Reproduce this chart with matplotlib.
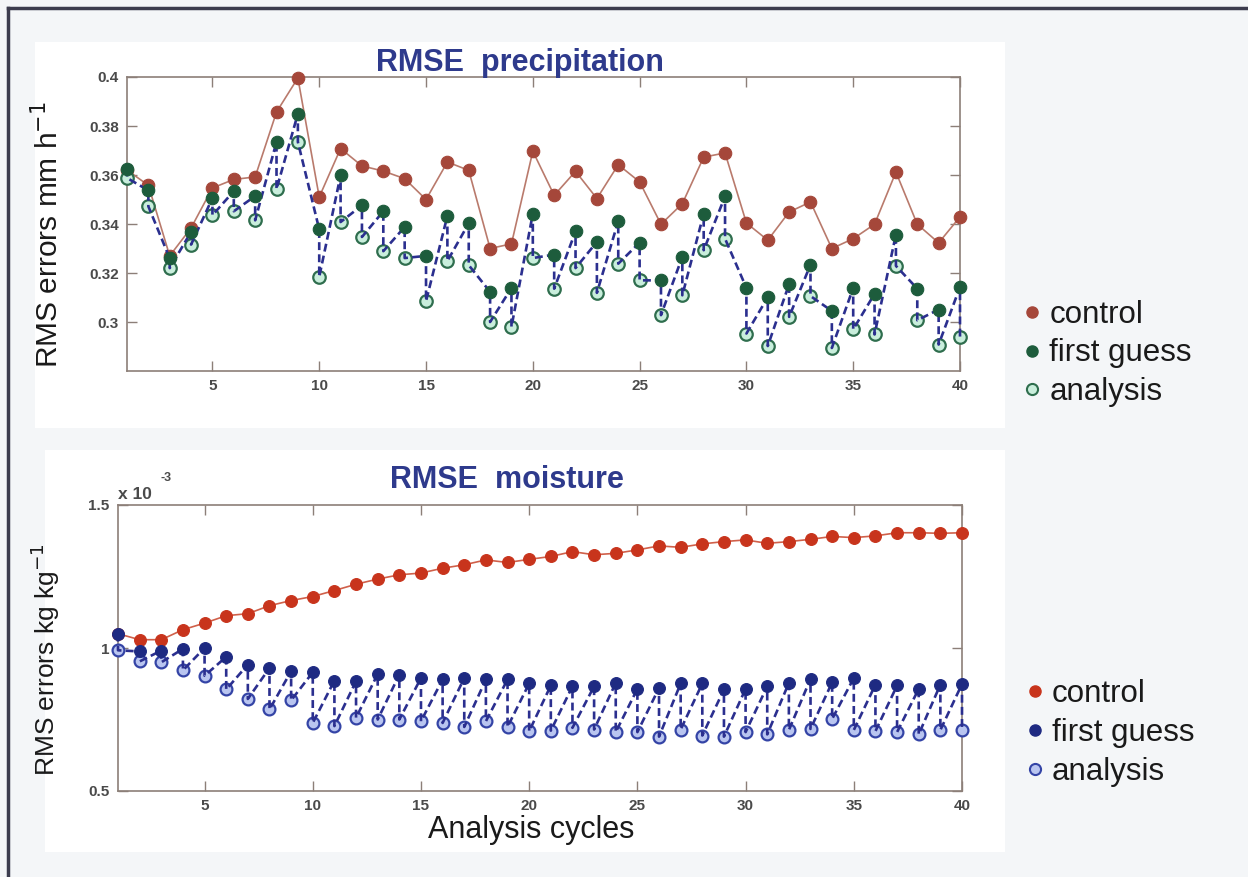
import numpy as np
import matplotlib
matplotlib.use("Agg")
import matplotlib.pyplot as plt
from matplotlib.lines import Line2D
from matplotlib.patches import Rectangle

plt.rcParams["font.family"] = ["Liberation Sans", "DejaVu Sans"]

cycles = np.arange(1, 41)

# precipitation RMSE (mm h-1)
ctrl_p = [0.362, 0.3558, 0.327, 0.3384, 0.3547, 0.3582, 0.3592, 0.3857, 0.3996, 0.351,
          0.3708, 0.3637, 0.3616, 0.3585, 0.350, 0.3653, 0.3619, 0.330, 0.3319, 0.3697,
          0.3517, 0.3615, 0.3504, 0.3642, 0.3572, 0.3399, 0.3483, 0.3673, 0.369, 0.3404,
          0.3334, 0.3449, 0.349, 0.330, 0.334, 0.3399, 0.3612, 0.3399, 0.3323, 0.3429]
fg_p = [0.3626, 0.3537, 0.326, 0.3368, 0.3506, 0.3534, 0.3514, 0.3735, 0.385, 0.3378,
        0.3599, 0.3476, 0.3452, 0.3388, 0.327, 0.3433, 0.3403, 0.3123, 0.3139, 0.3442,
        0.3275, 0.337, 0.3327, 0.3412, 0.3324, 0.317, 0.3266, 0.3442, 0.3513, 0.3139,
        0.3101, 0.3155, 0.3234, 0.3045, 0.3139, 0.3115, 0.3357, 0.3136, 0.3051, 0.3143]
an_p = [0.3588, 0.3472, 0.322, 0.3316, 0.3436, 0.3452, 0.3415, 0.3542, 0.3735, 0.3184,
        0.3408, 0.3347, 0.3289, 0.3261, 0.3085, 0.3249, 0.3232, 0.300, 0.298, 0.3261,
        0.3136, 0.322, 0.3119, 0.3238, 0.317, 0.3028, 0.3109, 0.3293, 0.334, 0.2953,
        0.2902, 0.3021, 0.3106, 0.2894, 0.297, 0.2949, 0.3229, 0.3007, 0.2908, 0.2939]

# moisture RMSE (x 1e-3 kg kg-1)
ctrl_m = [1.05, 1.029, 1.029, 1.064, 1.087, 1.113, 1.12, 1.148, 1.166, 1.18,
          1.201, 1.223, 1.241, 1.256, 1.262, 1.279, 1.291, 1.308, 1.299, 1.310,
          1.32, 1.337, 1.326, 1.331, 1.343, 1.357, 1.352, 1.364, 1.372, 1.378,
          1.366, 1.372, 1.38, 1.39, 1.386, 1.392, 1.403, 1.403, 1.401, 1.403]
fg_m = [1.05, 0.988, 0.991, 0.997, 1.0, 0.969, 0.942, 0.930, 0.919, 0.915,
        0.886, 0.884, 0.909, 0.907, 0.895, 0.890, 0.895, 0.890, 0.890, 0.876,
        0.869, 0.866, 0.866, 0.878, 0.857, 0.86, 0.876, 0.876, 0.855, 0.857,
        0.866, 0.878, 0.892, 0.880, 0.895, 0.872, 0.869, 0.857, 0.872, 0.874]
an_m = [0.992, 0.953, 0.95, 0.922, 0.903, 0.855, 0.822, 0.785, 0.817, 0.738,
        0.727, 0.756, 0.75, 0.75, 0.744, 0.738, 0.724, 0.744, 0.724, 0.709,
        0.711, 0.721, 0.715, 0.706, 0.706, 0.690, 0.715, 0.694, 0.690, 0.706,
        0.698, 0.713, 0.717, 0.752, 0.713, 0.709, 0.706, 0.698, 0.713, 0.713]

labels = ["control", "first guess", "analysis"]

TOP = dict(ctrl="#a5473a", ctrl_line="#b97a6c", fg="#1d5c3c", an_fill="#c9eedc", an_edge="#2f6e4e")
BOT = dict(ctrl="#c8341c", ctrl_line="#d0604a", fg="#1e2a82", an_fill="#b9c5f0", an_edge="#3444a6")
DASH = "#2b2f8f"
SPINE = "#8c7f78"

fig = plt.figure(figsize=(12.48, 8.77), dpi=100)
fig.patch.set_facecolor("#f4f6f8")
W, H = 1248, 877


def px_rect(x0, y0, x1, y1, **kw):
    fig.add_artist(Rectangle((x0 / W, 1 - y1 / H), (x1 - x0) / W, (y1 - y0) / H,
                             transform=fig.transFigure, zorder=-5, **kw))


# white panels and the dark frame edges
px_rect(35, 42, 1005, 428, facecolor="white", edgecolor="none")
px_rect(45, 450, 1005, 852, facecolor="white", edgecolor="none")
fig.add_artist(Line2D([8 / W, 1], [1 - 8 / H, 1 - 8 / H], transform=fig.transFigure,
                      color="#3c3c4e", lw=2.5, zorder=-4))
fig.add_artist(Line2D([8 / W, 8 / W], [0, 1 - 8 / H], transform=fig.transFigure,
                      color="#3c3c4e", lw=2.5, zorder=-4))


def draw(ax, ctrl, fg, an, c, ms):
    ax.plot(cycles, ctrl, "-", color=c["ctrl_line"], lw=1.2, zorder=2, clip_on=False)
    ax.plot(cycles, ctrl, "o", ms=ms, mfc=c["ctrl"], mec=c["ctrl"], mew=0.8, zorder=3,
            clip_on=False)
    xs = np.repeat(cycles, 2)
    ys = np.column_stack([fg, an]).ravel()
    ax.plot(cycles, an, "o", ms=ms, mfc=c["an_fill"], mec=c["an_edge"], mew=1.6, zorder=3,
            clip_on=False)
    ax.plot(xs, ys, color=DASH, lw=1.9, ls=(0, (3, 1.6)), zorder=4, clip_on=False)
    ax.plot(cycles, fg, "o", ms=ms, mfc=c["fg"], mec=c["fg"], mew=0.8, zorder=5,
            clip_on=False)

    ax.set_xlim(1, 40)
    ax.set_xticks([5, 10, 15, 20, 25, 30, 35, 40])
    ax.tick_params(direction="in", top=True, right=True, length=7, width=1,
                   color=SPINE, labelsize=11, labelcolor="#4a4a4a", pad=6)
    for s in ax.spines.values():
        s.set_color(SPINE)
        s.set_linewidth(1.2)
    ax.set_facecolor("white")

    handles = [
        Line2D([], [], ls="none", marker="o", ms=8, mfc=c["ctrl"], mec=c["ctrl"]),
        Line2D([], [], ls="none", marker="o", ms=8, mfc=c["fg"], mec=c["fg"]),
        Line2D([], [], ls="none", marker="o", ms=8, mfc=c["an_fill"], mec=c["an_edge"], mew=1.5),
    ]
    return handles


legend_kw = dict(loc="upper left", frameon=False, fontsize=22.5, handlelength=0.5,
                 handletextpad=0.3, labelspacing=0.28, borderaxespad=0,
                 labelcolor="#1a1a1a")
title_kw = dict(fontsize=22, fontweight="bold", color="#2e3a8c")

# top panel: precipitation
ax1 = fig.add_axes([127 / W, 1 - 371 / H, (960 - 127) / W, (371 - 77) / H])
h1 = draw(ax1, ctrl_p, fg_p, an_p, TOP, 9)
ax1.set_ylim(0.28, 0.4)
ax1.set_yticks([0.3, 0.32, 0.34, 0.36, 0.38, 0.4])
ax1.set_yticklabels(["0.3", "0.32", "0.34", "0.36", "0.38", "0.4"])
ax1.set_ylabel("RMS errors mm h$^{-1}$", fontsize=21.5, color="#1a1a1a")
ax1.yaxis.set_label_coords(-0.075, 0.463)
ax1.set_title("RMSE  precipitation", x=0.472, pad=4, **title_kw)
ax1.legend(h1, labels, bbox_to_anchor=(1.062, 0.285), **legend_kw)

# bottom panel: moisture
ax2 = fig.add_axes([118 / W, 1 - 791 / H, (962 - 118) / W, (791 - 505) / H])
h2 = draw(ax2, ctrl_m, fg_m, an_m, BOT, 8.5)
ax2.set_ylim(0.5, 1.5)
ax2.set_yticks([0.5, 1.0, 1.5])
ax2.set_yticklabels(["0.5", "1", "1.5"])
ax2.set_ylabel("RMS errors kg kg$^{-1}$", fontsize=19, color="#1a1a1a")
ax2.yaxis.set_label_coords(-0.066, 0.458)
ax2.set_xlabel("Analysis cycles", fontsize=22, color="#1a1a1a")
ax2.xaxis.set_label_coords(0.49, -0.085)
ax2.set_title("RMSE  moisture", x=0.461, pad=12, **title_kw)
ax2.text(0.0, 1.012, "x 10", transform=ax2.transAxes, fontsize=12.5,
         fontweight="bold", color="#4a4a4a", ha="left", va="bottom")
ax2.text(0.05, 1.094, "-3", transform=ax2.transAxes, fontsize=9,
         fontweight="bold", color="#4a4a4a", ha="left", va="center")
ax2.legend(h2, labels, bbox_to_anchor=(1.062, 0.435), **legend_kw)

for ax in (ax1, ax2):
    for lab in ax.get_xticklabels() + ax.get_yticklabels():
        lab.set_fontweight("bold")

fig.savefig("out.png", dpi=100, facecolor=fig.get_facecolor())
